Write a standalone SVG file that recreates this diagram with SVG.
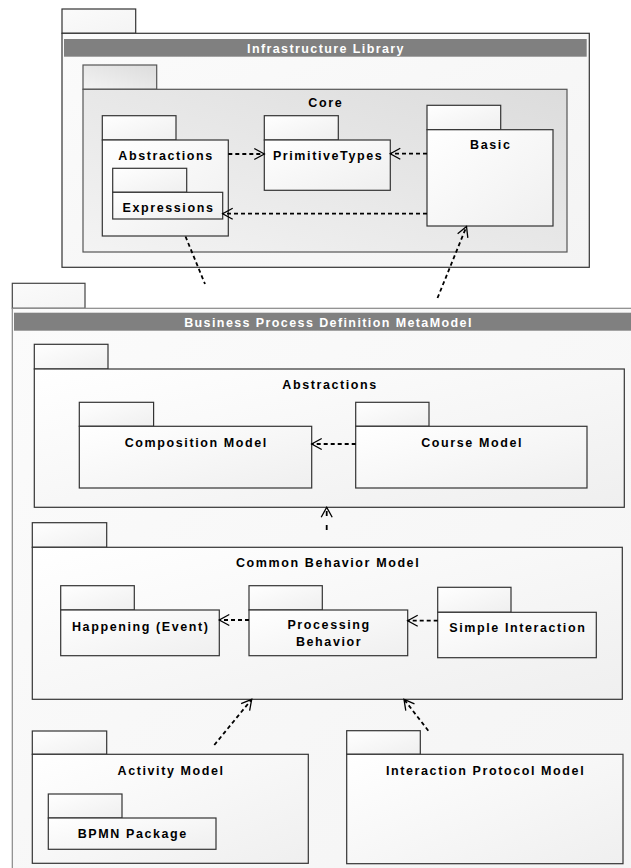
<svg xmlns="http://www.w3.org/2000/svg" width="631" height="868" viewBox="0 0 631 868">
<defs>
<linearGradient id="gNode" x1="0" y1="0" x2="1" y2="1">
<stop offset="0" stop-color="#ffffff"/><stop offset="1" stop-color="#efefef"/>
</linearGradient>
<linearGradient id="gCore" x1="1" y1="0" x2="0" y2="1">
<stop offset="0" stop-color="#dcdcdc"/><stop offset="1" stop-color="#f3f3f3"/>
</linearGradient>
<linearGradient id="gOuter" x1="0" y1="0" x2="1" y2="1">
<stop offset="0" stop-color="#fbfbfb"/><stop offset="1" stop-color="#f4f4f4"/>
</linearGradient>
<marker id="arr" markerUnits="userSpaceOnUse" markerWidth="14" markerHeight="14" viewBox="-12 -7 14 14" refX="0" refY="0" orient="auto">
<path d="M-10,-5.5 L0,0 L-10,5.5" fill="none" stroke="#000" stroke-width="1.3"/>
</marker>
</defs>
<style>
.node{fill:url(#gNode);stroke:#333;stroke-width:1.2}
.outer{fill:url(#gOuter);stroke:#333;stroke-width:1.2}
.core{fill:url(#gCore);stroke:#555;stroke-width:1.2}
.bpdm{fill:url(#gOuter);stroke:#888;stroke-width:1.2}
.bar{fill:#808080}
text{font-family:"Liberation Sans",Arial,sans-serif;font-weight:bold;font-size:12.5px;letter-spacing:1.6px;text-anchor:middle;fill:#000}
.hdr{fill:#fff;letter-spacing:1.4px}
.dep{fill:none;stroke:#000;stroke-width:1.8;stroke-dasharray:4 3}
</style>
<rect width="631" height="868" fill="#fff"/>

<g id="infrastructure-library">
<rect class="outer" x="62" y="9" width="73.7" height="24.3"/>
<rect class="outer" x="62" y="33.3" width="527.3" height="234"/>
<rect class="bar" x="64" y="39" width="522.7" height="17.7"/>
<text class="hdr" x="326" y="52.5">Infrastructure Library</text>
</g>

<g id="core">
<rect class="core" x="83" y="65" width="73.7" height="24.3"/>
<rect class="core" x="83" y="89.3" width="484" height="162.7"/>
<text x="325.8" y="107">Core</text>
</g>

<g id="core-abstractions">
<rect class="node" x="102.3" y="115.7" width="73.7" height="24.3"/>
<rect class="node" x="102.3" y="140" width="126" height="96"/>
<text x="166.1" y="160">Abstractions</text>
</g>

<g id="expressions">
<rect class="node" x="112.7" y="168.3" width="74" height="24"/>
<rect class="node" x="112.7" y="192.3" width="110" height="26.7"/>
<text x="168.5" y="212">Expressions</text>
</g>

<g id="primitive-types">
<rect class="node" x="264.3" y="115.7" width="74" height="24.3"/>
<rect class="node" x="264.3" y="140" width="126" height="50.3"/>
<text x="328.1" y="160">PrimitiveTypes</text>
</g>

<g id="basic">
<rect class="node" x="427" y="105.3" width="73.7" height="24.3"/>
<rect class="node" x="427" y="129.7" width="126" height="96.3"/>
<text x="490.8" y="149">Basic</text>
</g>

<g id="bpdm">
<rect class="bpdm" x="12.3" y="283.3" width="72.7" height="25" style="stroke:#444"/>
<rect class="bpdm" x="12.3" y="308.3" width="640" height="600"/>
<rect class="bar" x="14" y="312.7" width="630" height="18"/>
<text class="hdr" x="328.5" y="326.5">Business Process Definition MetaModel</text>
</g>

<g id="bpdm-abstractions">
<rect class="node" x="34.3" y="344.3" width="73.7" height="24.7"/>
<rect class="node" x="34.3" y="369" width="590" height="138.3"/>
<text x="330.1" y="388.5">Abstractions</text>
</g>

<g id="composition-model">
<rect class="node" x="79.3" y="402.3" width="74.3" height="24"/>
<rect class="node" x="79.3" y="426.3" width="232.4" height="61.7"/>
<text x="196.3" y="446.7">Composition Model</text>
</g>

<g id="course-model">
<rect class="node" x="355.7" y="402.3" width="73.3" height="24"/>
<rect class="node" x="355.7" y="426.3" width="231.3" height="61.7"/>
<text x="472.1" y="446.7">Course Model</text>
</g>

<g id="common-behavior-model">
<rect class="node" x="32.3" y="522.7" width="74.4" height="24.6"/>
<rect class="node" x="32.3" y="547.3" width="590" height="152"/>
<text x="328.1" y="566.7">Common Behavior Model</text>
</g>

<g id="happening">
<rect class="node" x="60.7" y="585.7" width="73.6" height="24.3"/>
<rect class="node" x="60.7" y="610" width="158.6" height="45.7"/>
<text x="140.8" y="630.7">Happening (Event)</text>
</g>

<g id="processing-behavior">
<rect class="node" x="249" y="585.7" width="73.3" height="24.3"/>
<rect class="node" x="249" y="610" width="158.7" height="45.7"/>
<text x="329.1" y="628.5">Processing</text>
<text x="329.1" y="646">Behavior</text>
</g>

<g id="simple-interaction">
<rect class="node" x="437.7" y="587.3" width="73.3" height="25"/>
<rect class="node" x="437.7" y="612.3" width="158.6" height="45.4"/>
<text x="517.8" y="631.7">Simple Interaction</text>
</g>

<g id="activity-model">
<rect class="node" x="32.3" y="731" width="74.4" height="23.3"/>
<rect class="node" x="32.3" y="754.3" width="276" height="109"/>
<text x="171.1" y="775">Activity Model</text>
</g>

<g id="bpmn-package">
<rect class="node" x="48.3" y="794" width="73.7" height="24"/>
<rect class="node" x="48.3" y="818" width="167.7" height="31.3"/>
<text x="132.8" y="838.3">BPMN Package</text>
</g>

<g id="interaction-protocol-model">
<rect class="node" x="346.7" y="730.7" width="73.6" height="23.6"/>
<rect class="node" x="346.7" y="754.3" width="276.3" height="109.4"/>
<text x="485.6" y="775">Interaction Protocol Model</text>
</g>

<g id="connectors">
<line class="dep" x1="228.3" y1="154" x2="264.3" y2="154" marker-end="url(#arr)"/>
<line class="dep" x1="427" y1="153.7" x2="390.3" y2="153.7" marker-end="url(#arr)"/>
<line class="dep" x1="427" y1="213.7" x2="222.7" y2="213.7" marker-end="url(#arr)"/>
<line class="dep" x1="185.5" y1="236.5" x2="205" y2="284"/>
<line class="dep" x1="437.5" y1="298" x2="466.5" y2="226.5" marker-end="url(#arr)"/>
<line class="dep" x1="355.7" y1="444" x2="311.7" y2="444" marker-end="url(#arr)"/>
<line class="dep" x1="326.7" y1="530" x2="326.7" y2="507.3" marker-end="url(#arr)" style="stroke-dasharray:5 9"/>
<line class="dep" x1="249" y1="620" x2="219.3" y2="620" marker-end="url(#arr)"/>
<line class="dep" x1="437.7" y1="620.7" x2="407.7" y2="620.7" marker-end="url(#arr)"/>
<line class="dep" x1="214.3" y1="745" x2="251.7" y2="699.3" marker-end="url(#arr)"/>
<line class="dep" x1="428.3" y1="730.7" x2="404" y2="699.3" marker-end="url(#arr)"/>
</g>
</svg>
